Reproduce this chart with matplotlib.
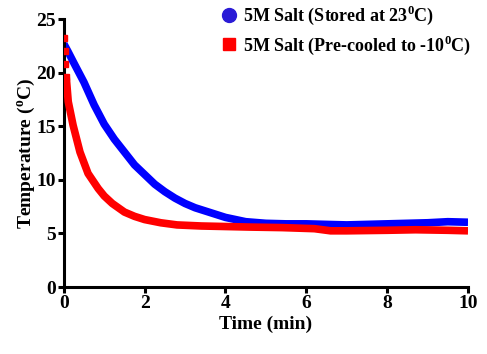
import matplotlib
matplotlib.use("Agg")
import matplotlib.pyplot as plt

plt.rcParams['font.family'] = 'Liberation Serif'
plt.rcParams['font.weight'] = 'bold'
plt.rcParams['mathtext.fontset'] = 'custom'
plt.rcParams['mathtext.rm'] = 'Liberation Serif:bold'
plt.rcParams['mathtext.bf'] = 'Liberation Serif:bold'

# blue series: 5M salt stored at 23 C
t_blue = [0, 0.1, 0.25, 0.5, 0.75, 1.0, 1.25, 1.5, 1.75, 2.0, 2.25, 2.5, 2.75, 3.0,
          3.25, 3.5, 3.75, 4.0, 4.5, 5.0, 5.5, 6.0, 6.5, 7.0, 7.5, 8.0, 8.5, 9.0, 9.5, 10.0]
temp_blue = [22.7, 22.0, 20.9, 19.1, 17.0, 15.2, 13.8, 12.6, 11.4, 10.5, 9.6, 8.9, 8.3, 7.8,
             7.4, 7.1, 6.8, 6.5, 6.1, 5.95, 5.9, 5.9, 5.85, 5.8, 5.85, 5.9, 5.95, 6.0, 6.1, 6.05]

# red series: 5M salt pre-cooled to -10 C
t_red = [0, 0.02, 0.04, 0.06, 0.11, 0.23, 0.4, 0.6, 0.85, 1.0, 1.2, 1.5, 1.75, 2.0,
         2.4, 2.8, 3.4, 4.0, 4.6, 5.4, 6.2, 6.6, 7.0, 8.0, 8.7, 9.5, 10.0]
temp_red = [23.2, 22.0, 20.8, 19.6, 17.3, 15.1, 12.6, 10.6, 9.2, 8.5, 7.8, 7.0, 6.6, 6.3,
            6.0, 5.8, 5.7, 5.65, 5.6, 5.55, 5.45, 5.25, 5.25, 5.3, 5.35, 5.3, 5.25]

label_blue = r'5M Salt (Stored at 23$^{\mathbf{0}}$C)'
label_red = r'5M Salt (Pre-cooled to -10$^{\mathbf{0}}$C)'

blue = '#0000ff'
red = '#ff0000'

fig = plt.figure(figsize=(4.87, 3.54), dpi=100)
ax = fig.add_axes([0.131, 0.189, 0.830, 0.757])

ax.plot(t_blue, temp_blue, color=blue, lw=5.5, solid_capstyle='butt', zorder=2)
# first few red readings are separate squares, then a dense band
ax.plot(t_red[:4], temp_red[:4], 's', color=red, ms=5, zorder=3)
ax.plot(t_red[3:], temp_red[3:], color=red, lw=5.5, solid_capstyle='butt', zorder=3)

# legend handles
h1, = ax.plot([], [], 'o', color='#2a1bd6', ms=10, label=label_blue)
h2, = ax.plot([], [], 's', color=red, ms=9, label=label_red)
fig.legend(handles=[h1, h2], loc='upper left', bbox_to_anchor=(0.423, 1.03),
           frameon=False, fontsize=13, handletextpad=0.25, labelspacing=0.35,
           handlelength=1.0, borderpad=0.3)

ax.set_xlim(0, 10)
ax.set_ylim(0, 25)
ax.set_xticks([0, 2, 4, 6, 8, 10])
ax.set_yticks([0, 5, 10, 15, 20, 25])
ax.set_xlabel('Time (min)', fontsize=14, fontweight='bold', labelpad=3)
ax.set_ylabel(r'Temperature ($^{\mathbf{o}}$C)', fontsize=14, fontweight='bold', labelpad=-1)

for s in ['top', 'right']:
    ax.spines[s].set_visible(False)
for s in ['left', 'bottom']:
    ax.spines[s].set_linewidth(2.2)
ax.tick_params(width=2.2, length=4, labelsize=14, pad=1.5)
for lab in ax.get_xticklabels() + ax.get_yticklabels():
    lab.set_fontweight('bold')

fig.savefig('out.png', dpi=100)
